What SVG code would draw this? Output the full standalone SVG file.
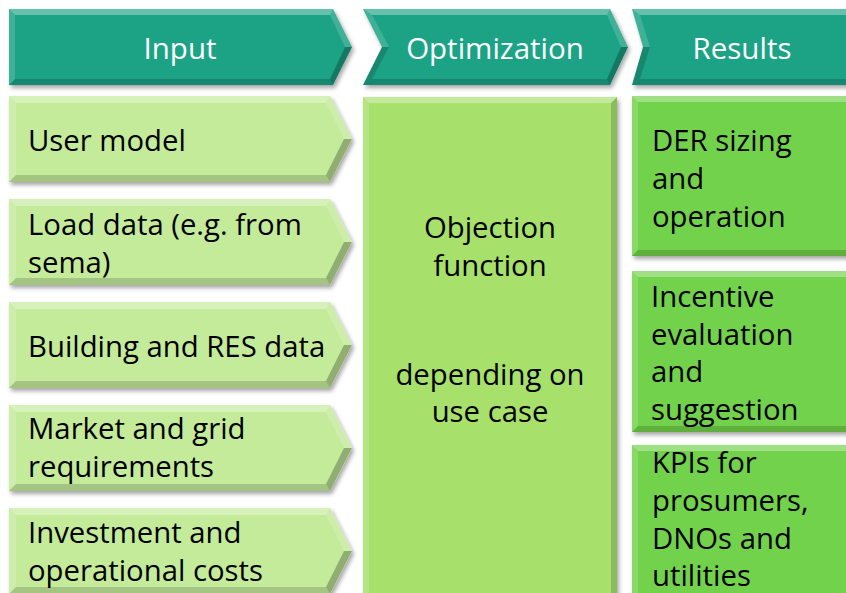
<svg xmlns="http://www.w3.org/2000/svg" xmlns:xlink="http://www.w3.org/1999/xlink" width="846" height="593" viewBox="0 0 846 593">
  <style>
    .hdr { fill: #1fa385; }
    .inp { fill: #c4eb9a; }
    .mid { fill: #a7e06b; }
    .res { fill: #73d24b; }
    .hl  { fill: #ffffff; fill-opacity: 0.32; }
    .hl2 { fill: #ffffff; fill-opacity: 0.16; }
    .dk  { fill: #000000; fill-opacity: 0.16; }
    .dk2 { fill: #000000; fill-opacity: 0.26; }
    text { font-family: "Open Sans", "Noto Sans", "DejaVu Sans", sans-serif; }
    .ht { fill: #ffffff; font-size: 29.5px; text-anchor: middle; }
    .bt { fill: #000000; font-size: 29.3px; }
    .ct { fill: #000000; font-size: 29.3px; text-anchor: middle; }
  </style>
  <defs>
    <filter id="shadow" x="-5%" y="-5%" width="115%" height="120%">
      <feDropShadow dx="2" dy="3" stdDeviation="2" flood-color="#000000" flood-opacity="0.35"/>
    </filter>
    <!-- bevelled pentagon arrow used by every input item -->
    <g id="inArrow">
      <polygon class="inp" points="0,0 321,0 343,43 321,86 0,86" filter="url(#shadow)"/>
      <polygon class="hl" points="0,0 321,0 317,7 7,7"/>
      <polygon class="hl2" points="0,0 7,7 7,79 0,86"/>
      <polygon class="dk" points="0,86 7,79 317,79 321,86"/>
      <polygon class="hl2" points="321,0 343,43 335,43 317,7"/>
      <polygon class="dk2" points="343,43 321,86 317,79 335,43"/>
    </g>
  </defs>

  <rect width="846" height="593" fill="#ffffff"/>

  <!-- header chevrons -->
  <g id="hdr-input">
    <polygon class="hdr" points="9,9 333,9 352,47 333,85 9,85" filter="url(#shadow)"/>
    <polygon class="hl" points="9,9 333,9 330,15 15,15"/>
    <polygon class="hl2" points="9,9 15,15 15,79 9,85"/>
    <polygon class="dk" points="9,85 15,79 330,79 333,85"/>
    <polygon class="hl2" points="333,9 352,47 345,47 330,15"/>
    <polygon class="dk2" points="352,47 333,85 330,79 345,47"/>
    <text class="ht" x="180" y="59">Input</text>
  </g>
  <g id="hdr-optimization">
    <polygon class="hdr" points="363,9 610,9 628,47 610,85 363,85 382,47" filter="url(#shadow)"/>
    <polygon class="hl" points="363,9 610,9 607,15 372,15"/>
    <polygon class="hl2" points="610,9 628,47 621,47 607,15"/>
    <polygon class="dk2" points="628,47 610,85 607,79 621,47"/>
    <polygon class="dk" points="610,85 363,85 372,79 607,79"/>
    <polygon class="dk" points="363,85 382,47 389,47 372,79"/>
    <polygon class="hl2" points="382,47 363,9 372,15 389,47"/>
    <text class="ht" x="495" y="59">Optimization</text>
  </g>
  <g id="hdr-results">
    <polygon class="hdr" points="632,9 850,9 850,85 632,85 643,47" filter="url(#shadow)"/>
    <polygon class="hl" points="632,9 850,9 850,15 640,15"/>
    <polygon class="dk" points="632,85 640,79 850,79 850,85"/>
    <polygon class="hl2" points="643,47 632,9 640,15 650,47"/>
    <polygon class="dk" points="632,85 643,47 650,47 640,79"/>
    <text class="ht" x="742" y="59">Results</text>
  </g>

  <!-- input items -->
  <g id="in-user-model">
    <use xlink:href="#inArrow" transform="translate(9,96)"/>
    <text class="bt" x="28" y="151">User model</text>
  </g>
  <g id="in-load-data">
    <use xlink:href="#inArrow" transform="translate(9,199)"/>
    <text class="bt" x="28" y="235">Load data (e.g. from</text>
    <text class="bt" x="28" y="273">sema)</text>
  </g>
  <g id="in-building">
    <use xlink:href="#inArrow" transform="translate(9,302)"/>
    <text class="bt" x="28" y="357">Building and RES data</text>
  </g>
  <g id="in-market">
    <use xlink:href="#inArrow" transform="translate(9,405)"/>
    <text class="bt" x="28" y="439">Market and grid</text>
    <text class="bt" x="28" y="477">requirements</text>
  </g>
  <g id="in-costs">
    <use xlink:href="#inArrow" transform="translate(9,508)"/>
    <text class="bt" x="28" y="543">Investment and</text>
    <text class="bt" x="28" y="581">operational costs</text>
  </g>

  <!-- optimization body -->
  <g id="opt-objective">
    <rect class="mid" x="363" y="97" width="254" height="510" filter="url(#shadow)"/>
    <polygon class="hl" points="363,97 617,97 611,103 369,103"/>
    <polygon class="hl2" points="363,97 369,103 369,600 363,600"/>
    <polygon class="dk" points="617,97 617,600 611,600 611,103"/>
    <text class="ct" x="490" y="238">Objection</text>
    <text class="ct" x="490" y="276">function</text>
    <text class="ct" x="490" y="385">depending on</text>
    <text class="ct" x="490" y="422">use case</text>
  </g>

  <!-- results -->
  <g id="res-der">
    <rect class="res" x="632" y="96" width="220" height="160" filter="url(#shadow)"/>
    <polygon class="hl" points="632,96 852,96 852,102 638,102"/>
    <polygon class="hl2" points="632,96 638,102 638,250 632,256"/>
    <polygon class="dk" points="632,256 638,250 852,250 852,256"/>
    <text class="bt" x="652" y="151">DER sizing</text>
    <text class="bt" x="652" y="189">and</text>
    <text class="bt" x="652" y="227">operation</text>
  </g>
  <g id="res-incentive">
    <rect class="res" x="632" y="271" width="220" height="161" filter="url(#shadow)"/>
    <polygon class="hl" points="632,271 852,271 852,277 638,277"/>
    <polygon class="hl2" points="632,271 638,277 638,426 632,432"/>
    <polygon class="dk" points="632,432 638,426 852,426 852,432"/>
    <text class="bt" x="651" y="307">Incentive</text>
    <text class="bt" x="651" y="345">evaluation</text>
    <text class="bt" x="651" y="382">and</text>
    <text class="bt" x="651" y="420">suggestion</text>
  </g>
  <g id="res-kpi">
    <rect class="res" x="632" y="445" width="220" height="160" filter="url(#shadow)"/>
    <polygon class="hl" points="632,445 852,445 852,451 638,451"/>
    <polygon class="hl2" points="632,445 638,451 638,600 632,600"/>
    <text class="bt" x="652" y="473">KPIs for</text>
    <text class="bt" x="652" y="511">prosumers,</text>
    <text class="bt" x="652" y="549">DNOs and</text>
    <text class="bt" x="652" y="586">utilities</text>
  </g>
</svg>
